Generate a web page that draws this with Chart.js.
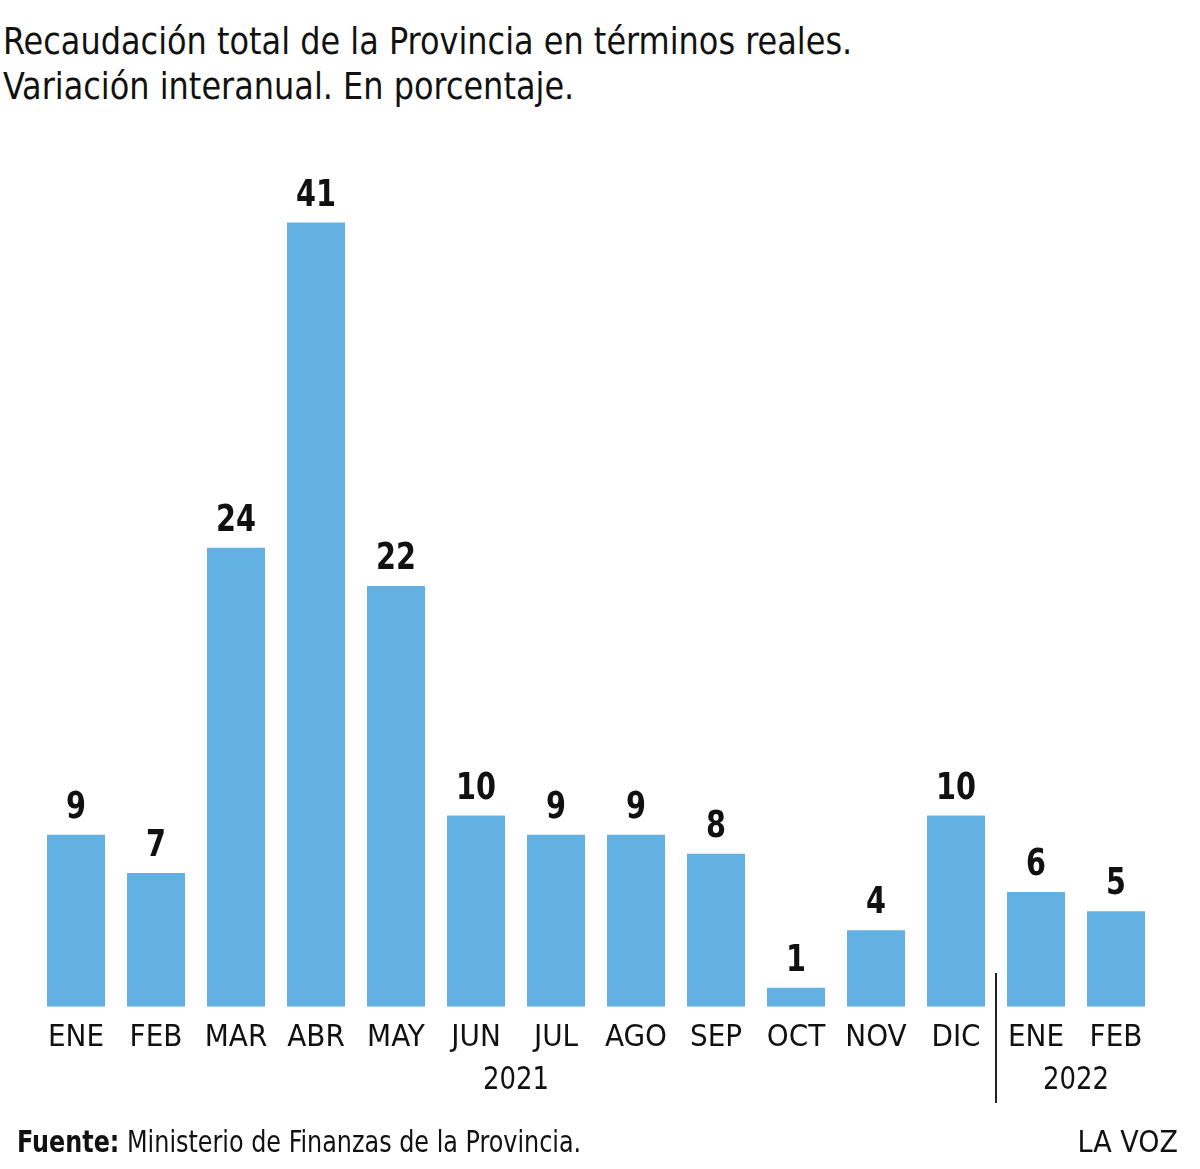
<!DOCTYPE html>
<html>
<head>
<meta charset="utf-8">
<script src="https://cdn.jsdelivr.net/npm/chart.js@4/dist/chart.umd.min.js"></script>
<style>
  html, body { margin: 0; padding: 0; background: #fff; }
  body { width: 1200px; height: 1169px; position: relative; overflow: hidden;
         font-family: 'DejaVu Sans Condensed', 'Liberation Sans', sans-serif; color: #111; }
  #title { position: absolute; left: 3px; top: 19px; font-size: 38px; line-height: 45px; white-space: nowrap;
           transform: scaleX(0.935); transform-origin: 0 0; }
  #source { position: absolute; left: 17px; top: 1124px; font-size: 30px; line-height: 36px; white-space: nowrap;
            transform: scaleX(0.885); transform-origin: 0 0; }
  #source b { font-weight: bold; }
  #brand { position: absolute; right: 22px; top: 1124px; font-size: 30px; line-height: 36px; white-space: nowrap; }
  #wrap { position: absolute; left: 0; top: 0; width: 1200px; height: 1169px; }
</style>
</head>
<body>
<div id="title">Recaudación total de la Provincia en términos reales.<br>Variación interanual. En porcentaje.</div>
<div id="wrap"><canvas id="c" width="1200" height="1169"></canvas></div>
<div id="source"><b>Fuente:</b> Ministerio de Finanzas de la Provincia.</div>
<div id="brand">LA VOZ</div>
<script>
const months = ["ENE","FEB","MAR","ABR","MAY","JUN","JUL","AGO","SEP","OCT","NOV","DIC","ENE","FEB"];
const values = [9, 7, 24, 41, 22, 10, 9, 9, 8, 1, 4, 10, 6, 5];
const yearLabels = ["2021", "2022"];
const yearRanges = [[0, 11], [12, 13]];

const FONT = "'DejaVu Sans Condensed', 'Liberation Sans', sans-serif";
const BAR_COLOR = "#63b1e3";

const extras = {
  id: 'extras',
  afterDatasetsDraw(chart) {
    const ctx = chart.ctx;
    const meta = chart.getDatasetMeta(0);
    ctx.save();
    ctx.fillStyle = '#111';
    ctx.textAlign = 'center';
    ctx.textBaseline = 'alphabetic';
    ctx.font = "bold 38px " + FONT;
    meta.data.forEach((bar, i) => {
      ctx.save();
      ctx.translate(bar.x, bar.y - 17);
      ctx.scale(0.84, 1);
      ctx.fillText(String(values[i]), 0, 0);
      ctx.restore();
    });
    const xs = chart.scales.x;
    ctx.font = "32px " + FONT;
    ctx.textBaseline = 'middle';
    yearRanges.forEach((r, k) => {
      const cx = (xs.getPixelForValue(r[0]) + xs.getPixelForValue(r[1])) / 2;
      ctx.save();
      ctx.translate(cx, 1081);
      ctx.scale(0.9, 1);
      ctx.fillText(yearLabels[k], 0, 0);
      ctx.restore();
    });
    const sx = (xs.getPixelForValue(11) + xs.getPixelForValue(12)) / 2;
    ctx.strokeStyle = '#222';
    ctx.lineWidth = 2;
    ctx.beginPath();
    ctx.moveTo(sx, 973);
    ctx.lineTo(sx, 1103);
    ctx.stroke();
    ctx.restore();
  }
};

new Chart(document.getElementById('c'), {
  type: 'bar',
  data: {
    labels: months,
    datasets: [{
      data: values,
      backgroundColor: BAR_COLOR,
      borderWidth: 0,
      barPercentage: 0.725,
      categoryPercentage: 1.0
    }]
  },
  options: {
    responsive: false,
    animation: false,
    devicePixelRatio: 1,
    layout: { padding: { left: 36, right: 44, top: 146, bottom: 99 } },
    plugins: { legend: { display: false }, tooltip: { enabled: false } },
    scales: {
      x: {
        grid: { display: false, drawTicks: false },
        border: { display: false },
        ticks: { color: '#111', font: { family: FONT, size: 31 }, padding: 13, maxRotation: 0, autoSkip: false }
      },
      y: {
        display: false,
        min: 0,
        max: 45
      }
    }
  },
  plugins: [extras]
});
</script>
</body>
</html>
